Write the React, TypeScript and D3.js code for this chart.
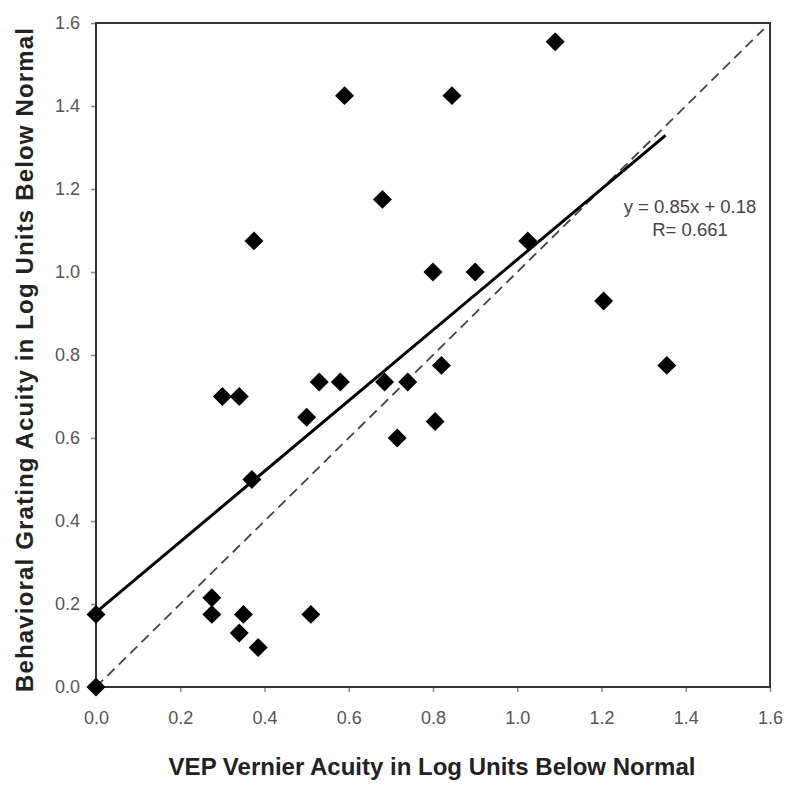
import React, { useEffect, useRef } from 'react';
import * as d3 from 'd3';

// VEP vernier acuity (x) vs behavioral grating acuity (y), log units below normal
const vepVernier = [
    0, 0, 0.275, 0.275, 0.34, 0.35, 0.385, 0.51, 0.30, 0.34,
    0.37, 0.50, 0.53, 0.58, 0.375, 0.59, 0.68, 0.845, 1.09, 1.025,
    0.80, 0.90, 1.205, 1.355, 0.82, 0.685, 0.74, 0.715, 0.805,
];
const behavioralGrating = [
    0, 0.175, 0.175, 0.215, 0.13, 0.175, 0.095, 0.175, 0.70, 0.70,
    0.50, 0.65, 0.735, 0.735, 1.075, 1.425, 1.175, 1.425, 1.555, 1.075,
    1.00, 1.00, 0.93, 0.775, 0.775, 0.735, 0.735, 0.60, 0.64,
];
const tickValues = [0, 0.2, 0.4, 0.6, 0.8, 1.0, 1.2, 1.4, 1.6];
const fitSlope = 0.85;
const fitIntercept = 0.18;
const fitRange = [0, 1.352];
const identityRange = [0, 1.585];
const fitLabel = 'y = 0.85x + 0.18';
const rLabel = 'R= 0.661';
const xTitle = 'VEP Vernier Acuity in Log Units Below Normal';
const yTitle = 'Behavioral Grating Acuity in Log Units Below Normal';

const FONT = "'Liberation Sans', Arial, Helvetica, sans-serif";

const ScatterChart = ({ width = 800, height = 800 }) => {
    const svgRef = useRef<SVGSVGElement>(null);

    useEffect(() => {
        const svg = d3.select(svgRef.current);
        svg.selectAll('*').remove();

        const x0 = 96, x1 = 770, y0 = 687, y1 = 23;

        const xScale = d3.scaleLinear().domain([0, 1.6]).range([x0, x1]);
        const yScale = d3.scaleLinear().domain([0, 1.6]).range([y0, y1]);

        svg.attr('width', width).attr('height', height)
            .style('font-family', FONT);

        svg.append('rect')
            .attr('width', width).attr('height', height)
            .attr('fill', 'white');

        // axes
        const xAxis = svg.append('g')
            .attr('transform', `translate(0,${y0})`)
            .call(d3.axisBottom(xScale).tickValues(tickValues).tickFormat(d3.format('.1f')).tickSize(5).tickPadding(19));
        const yAxis = svg.append('g')
            .attr('transform', `translate(${x0},0)`)
            .call(d3.axisLeft(yScale).tickValues(tickValues).tickFormat(d3.format('.1f')).tickSize(5).tickPadding(11));

        [xAxis, yAxis].forEach((g) => {
            g.select('.domain').remove();
            g.selectAll('line').attr('stroke', '#888').attr('stroke-width', 1.5);
            g.selectAll('text')
                .style('font-family', FONT)
                .style('font-size', '18px')
                .attr('fill', '#555');
        });

        // plot frame
        svg.append('rect')
            .attr('x', x0).attr('y', y1)
            .attr('width', x1 - x0).attr('height', y0 - y1)
            .attr('fill', 'none')
            .attr('stroke', '#333')
            .attr('stroke-width', 2);

        // identity line
        svg.append('line')
            .attr('x1', xScale(identityRange[0])).attr('y1', yScale(identityRange[0]))
            .attr('x2', xScale(identityRange[1])).attr('y2', yScale(identityRange[1]))
            .attr('stroke', '#444')
            .attr('stroke-width', 1.8)
            .attr('stroke-dasharray', '10,6');

        // regression line
        svg.append('line')
            .attr('x1', xScale(fitRange[0])).attr('y1', yScale(fitSlope * fitRange[0] + fitIntercept))
            .attr('x2', xScale(fitRange[1])).attr('y2', yScale(fitSlope * fitRange[1] + fitIntercept))
            .attr('stroke', '#000')
            .attr('stroke-width', 3);

        // data points
        const points = vepVernier.map((v, i) => ({ x: v, y: behavioralGrating[i] }));
        const diamond = d3.symbol().type(d3.symbolDiamond2).size(230);
        svg.append('g')
            .selectAll('path')
            .data(points)
            .enter()
            .append('path')
            .attr('d', diamond)
            .attr('transform', (d) => `translate(${xScale(d.x)},${yScale(d.y)})`)
            .attr('fill', '#000');

        // fit annotation
        svg.append('text')
            .attr('x', 690).attr('y', 213)
            .attr('text-anchor', 'middle')
            .style('font-size', '18.5px')
            .attr('fill', '#444')
            .text(fitLabel);
        svg.append('text')
            .attr('x', 690).attr('y', 236)
            .attr('text-anchor', 'middle')
            .style('font-size', '18.5px')
            .attr('fill', '#444')
            .text(rLabel);

        // axis titles
        svg.append('text')
            .attr('x', 432).attr('y', 775)
            .attr('text-anchor', 'middle')
            .style('font-size', '24px')
            .style('font-weight', 'bold')
            .attr('fill', '#222')
            .text(xTitle);

        svg.append('text')
            .attr('transform', 'rotate(-90)')
            .attr('x', -360).attr('y', 33)
            .attr('text-anchor', 'middle')
            .attr('textLength', 664)
            .attr('lengthAdjust', 'spacing')
            .style('font-size', '24px')
            .style('font-weight', 'bold')
            .attr('fill', '#222')
            .text(yTitle);
    }, [width, height]);

    return <svg ref={svgRef} style={{ position: 'absolute', left: 0, top: 0 }}></svg>;
};

export default function App() {
    return <ScatterChart />;
}
